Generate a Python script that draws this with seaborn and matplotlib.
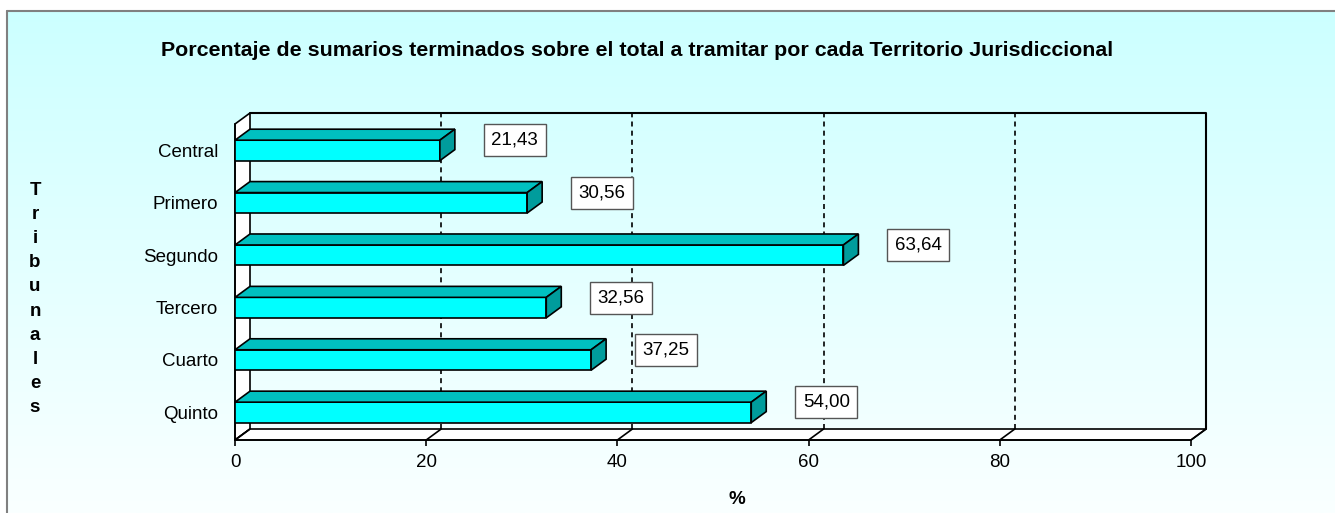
import numpy as np
import matplotlib
matplotlib.use('Agg')
import matplotlib.pyplot as plt
from matplotlib.patches import Polygon
from matplotlib.lines import Line2D
import seaborn as sns

tribunales = ['Central', 'Primero', 'Segundo', 'Tercero', 'Cuarto', 'Quinto']
porcentajes = [21.43, 30.56, 63.64, 32.56, 37.25, 54.00]
etiquetas = ['21,43', '30,56', '63,64', '32,56', '37,25', '54,00']
x_ticks = [0, 20, 40, 60, 80, 100]

titulo = 'Porcentaje de sumarios terminados sobre el total a tramitar por cada Territorio Jurisdiccional'

sns.set_style('white')
plt.rcParams['font.family'] = ['Liberation Sans', 'DejaVu Sans']
plt.rcParams['text.color'] = 'black'
plt.rcParams['xtick.color'] = 'black'
plt.rcParams['ytick.color'] = 'black'
plt.rcParams['axes.labelcolor'] = 'black'

W, H = 1335, 513
fig = plt.figure(figsize=(W / 100, H / 100), dpi=100, facecolor='white')

# gradient background inside the chart frame
bg = fig.add_axes([7 / W, 0, 1 - 7 / W, 1 - 11 / H])
top_c = np.array([204, 255, 255]) / 255
bot_c = np.array([250, 255, 255]) / 255
g = np.linspace(0, 1, 256)[:, None, None]
bg.imshow(top_c + (bot_c - top_c) * g, aspect='auto', extent=[0, 1, 0, 1])
bg.set_axis_off()
fig.add_artist(Line2D([7 / W, 7 / W], [0, 1 - 11 / H], color='#808080', lw=1.5))
fig.add_artist(Line2D([7 / W, 1], [1 - 11 / H, 1 - 11 / H], color='#808080', lw=1.5))

# front plane of the 3d plot
ax = fig.add_axes([235 / W, (H - 440) / H, (1191 - 235) / W, (440 - 124) / H])
ax.patch.set_alpha(0)

sns.barplot(x=porcentajes, y=tribunales, orient='h', color='#00FFFF',
            width=0.39, edgecolor='black', linewidth=1.2, saturation=1, ax=ax)

ylb, ylt = 5.527, -0.504
ax.set_xlim(0, 100)
ax.set_ylim(ylb, ylt)

# depth offset (15 px right, 11 px up) in data units
p0 = ax.transData.transform((0, 0))
dxd, dyd = ax.transData.inverted().transform(p0 + np.array([15, 11]))

# walls
ax.add_patch(Polygon([(0, ylt), (dxd, ylt + dyd), (dxd, ylb + dyd), (0, ylb)],
                     closed=True, facecolor='white', edgecolor='black', lw=1.2,
                     clip_on=False, zorder=0.5))
ax.add_patch(Polygon([(0, ylb), (100, ylb), (100 + dxd, ylb + dyd), (dxd, ylb + dyd)],
                     closed=True, facecolor='white', edgecolor='black', lw=1.2,
                     clip_on=False, zorder=0.5))
ax.plot([dxd, 100 + dxd, 100 + dxd], [ylt + dyd, ylt + dyd, ylb + dyd],
        color='black', lw=1.5, clip_on=False, zorder=1)
for t in x_ticks:
    ax.plot([t, t + dxd], [ylb, ylb + dyd], color='black', lw=1.2, clip_on=False, zorder=1)
    if 0 < t < 100:
        ax.plot([t + dxd, t + dxd], [ylb + dyd, ylt + dyd], color='black', lw=1.2,
                ls=(0, (3, 2.5)), clip_on=False, zorder=1)

# 3d faces of the bars
for p in ax.patches[:]:
    if not hasattr(p, 'get_width') or p.get_facecolor()[:3] != (0.0, 1.0, 1.0):
        continue
    v = p.get_width()
    yt = p.get_y()
    yb = yt + p.get_height()
    p.set_zorder(3)
    ax.add_patch(Polygon([(0, yt), (v, yt), (v + dxd, yt + dyd), (dxd, yt + dyd)],
                         closed=True, facecolor='#00C0C0', edgecolor='black', lw=1.2,
                         clip_on=False, zorder=3))
    ax.add_patch(Polygon([(v, yt), (v + dxd, yt + dyd), (v + dxd, yb + dyd), (v, yb)],
                         closed=True, facecolor='#009C9C', edgecolor='black', lw=1.2,
                         clip_on=False, zorder=3))

for i, (v, lab) in enumerate(zip(porcentajes, etiquetas)):
    ax.annotate(lab, xy=(v, i), xytext=(54, 7.2), textcoords='offset points',
                ha='center', va='center', fontsize=13.5, zorder=5,
                bbox=dict(boxstyle='square,pad=0.4', facecolor='white',
                          edgecolor='#555555', lw=1))

ax.set_xticks(x_ticks)
ax.set_xticklabels([str(t) for t in x_ticks])
ax.set_ylabel('')
ax.set_xlabel('')
ax.tick_params(axis='x', direction='out', length=4, width=1.2, color='black',
               labelsize=13.5, pad=6, bottom=True)
ax.tick_params(axis='y', length=0, labelsize=13.5, pad=12)
for s in ['top', 'right']:
    ax.spines[s].set_visible(False)
for s in ['left', 'bottom']:
    ax.spines[s].set_color('black')
    ax.spines[s].set_linewidth(1.2)
    ax.spines[s].set_zorder(2)
ax.grid(False)

fig.text(637 / W, (H - 50) / H, titulo, ha='center', va='center',
         fontsize=15.4, fontweight='bold')
fig.text(35 / W, (H - 299) / H, '\n'.join('Tribunales'), ha='center', va='center',
         fontsize=13.5, fontweight='bold', linespacing=1.55)
fig.text(737 / W, (H - 499) / H, '%', ha='center', va='center',
         fontsize=13.5, fontweight='bold')

fig.savefig('out.png', dpi=100, facecolor='white')
